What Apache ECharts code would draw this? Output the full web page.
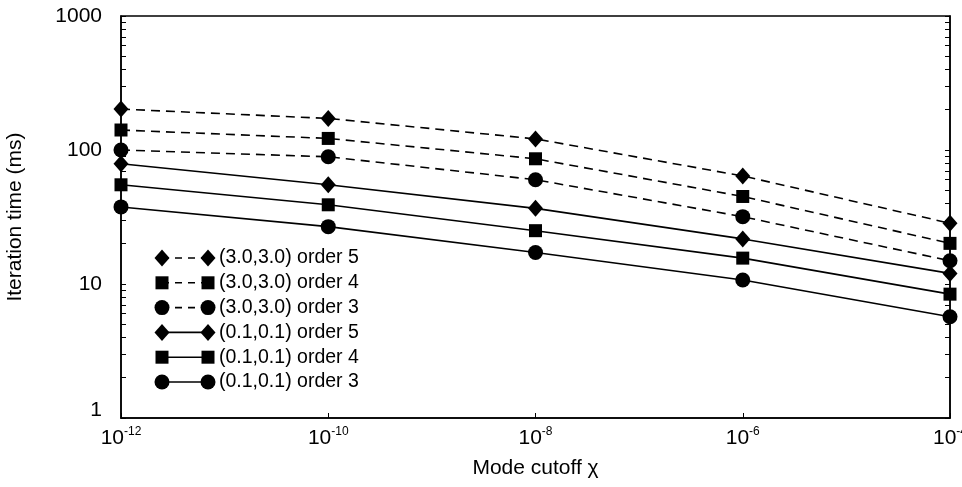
<!DOCTYPE html>
<html>
<head>
<meta charset="utf-8">
<script src="https://cdn.jsdelivr.net/npm/echarts@6/dist/echarts.min.js"></script>
<style>
  html, body { margin: 0; padding: 0; background: #fff; }
  #chart { width: 962px; height: 487px; }
</style>
</head>
<body>
<div id="chart"></div>
<script>
  // mode cutoff values (x) and iteration times (ms)
  var cutoffs = [1e-12, 1e-10, 1e-8, 1e-6, 1e-4];
  var hi5 = [202, 172, 121, 64, 28.4];
  var hi4 = [141, 122, 86, 45, 20.1];
  var hi3 = [100, 89, 60, 31.8, 14.9];
  var lo5 = [79, 55, 36.7, 21.7, 12];
  var lo4 = [55, 39, 25, 15.6, 8.4];
  var lo3 = [37.6, 26.8, 17.2, 10.7, 5.7];
  var seriesNames = ['(3.0,3.0) order 5', '(3.0,3.0) order 4', '(3.0,3.0) order 3',
                     '(0.1,0.1) order 5', '(0.1,0.1) order 4', '(0.1,0.1) order 3'];
  var xTicks = [1e-12, 1e-10, 1e-8, 1e-6, 1e-4];
  var yTicks = [1, 10, 100, 1000];

  var font = '"Liberation Sans", Arial, sans-serif';
  var allData = [hi5, hi4, hi3, lo5, lo4, lo3];
  var symbols = ['diamond', 'rect', 'circle', 'diamond', 'rect', 'circle'];
  var symSizes = [[15, 17], 13, 15, [15, 17], 13, 15];

  // minor ticks 1..9 per decade
  var yMinor = [];
  for (var e = 0; e < 3; e++) {
    for (var k = 1; k < 10; k++) yMinor.push(k * Math.pow(10, e));
  }
  yMinor.push(1000);

  var myChart = echarts.init(document.getElementById('chart'));

  var series = allData.map(function (vals, i) {
    return {
      name: seriesNames[i],
      type: 'line',
      data: vals.map(function (v, j) { return [cutoffs[j], v]; }),
      symbol: symbols[i],
      symbolSize: symSizes[i],
      showAllSymbol: true,
      clip: false,
      itemStyle: { color: '#000' },
      lineStyle: { color: '#000', width: 1.6, type: i < 3 ? [9, 6] : 'solid' },
      animation: false
    };
  });

  // hand-drawn legend: symbol - line - symbol, then text
  var legendEls = [];
  var lx1 = 162, lx2 = 208, ly0 = 258, ldy = 24.8;
  function sym(kind, cx, cy) {
    if (kind === 'circle') return { type: 'circle', shape: { cx: cx, cy: cy, r: 7.5 }, style: { fill: '#000' } };
    if (kind === 'rect') return { type: 'rect', shape: { x: cx - 6.5, y: cy - 6.5, width: 13, height: 13 }, style: { fill: '#000' } };
    return { type: 'polygon', shape: { points: [[cx, cy - 8.5], [cx + 7.5, cy], [cx, cy + 8.5], [cx - 7.5, cy]] }, style: { fill: '#000' } };
  }
  seriesNames.forEach(function (n, i) {
    var y = ly0 + i * ldy;
    legendEls.push({
      type: 'line',
      shape: { x1: lx1, y1: y, x2: lx2, y2: y },
      style: { stroke: '#000', lineWidth: 1.6, lineDash: i < 3 ? [7, 6] : null }
    });
    legendEls.push(sym(symbols[i], lx1, y));
    legendEls.push(sym(symbols[i], lx2, y));
    legendEls.push({
      type: 'text', x: 219, y: y,
      style: { text: n, font: '19.5px ' + font, fill: '#000', verticalAlign: 'middle' }
    });
  });

  var option = {
    backgroundColor: '#fff',
    animation: false,
    grid: {
      left: 121, right: 12, top: 16, bottom: 69,
      outerBoundsMode: 'none',
      show: true, borderColor: '#000', borderWidth: 1.5, backgroundColor: 'transparent'
    },
    xAxis: {
      type: 'log',
      logBase: 10,
      min: 1e-12,
      max: 1e-4,
      name: 'Mode cutoff χ',
      nameLocation: 'middle',
      nameGap: 40,
      nameTextStyle: { fontSize: 21, fontFamily: font, color: '#000' },
      axisLine: { show: true, lineStyle: { color: '#000', width: 1.5 } },
      axisTick: { show: true, inside: true, length: 5, customValues: xTicks, lineStyle: { color: '#000' } },
      axisLabel: {
        customValues: xTicks,
        margin: 8,
        formatter: function (v) {
          return '10{sup|' + Math.round(Math.log10(v)) + '}';
        },
        rich: {
          sup: { fontSize: 12, fontFamily: font, color: '#000', verticalAlign: 'top', padding: [0, 0, 12, 0] }
        },
        fontSize: 21, fontFamily: font, color: '#000'
      },
      splitLine: { show: false }
    },
    yAxis: [{
      type: 'log',
      logBase: 10,
      min: 1,
      max: 1000,
      name: 'Iteration time (ms)',
      nameLocation: 'middle',
      nameGap: 95,
      nameTextStyle: { fontSize: 21, fontFamily: font, color: '#000' },
      axisLine: { show: true, lineStyle: { color: '#000', width: 1.5 } },
      axisTick: { show: true, inside: true, length: 5, customValues: yMinor, lineStyle: { color: '#000' } },
      axisLabel: {
        customValues: yTicks,
        margin: 19,
        formatter: function (v) {
          return v === 1 ? '{lo|1}' : String(v);
        },
        rich: {
          lo: { fontSize: 21, fontFamily: font, color: '#000', padding: [0, 0, 16, 0] }
        },
        fontSize: 21, fontFamily: font, color: '#000'
      },
      splitLine: { show: false }
    }, {
      type: 'log',
      logBase: 10,
      min: 1,
      max: 1000,
      position: 'right',
      axisLine: { show: true, lineStyle: { color: '#000', width: 1.5 } },
      axisTick: { show: true, inside: true, length: 5, customValues: yMinor, lineStyle: { color: '#000' } },
      axisLabel: { show: false },
      splitLine: { show: false }
    }],
    series: series,
    graphic: legendEls
  };

  myChart.setOption(option);
</script>
</body>
</html>
